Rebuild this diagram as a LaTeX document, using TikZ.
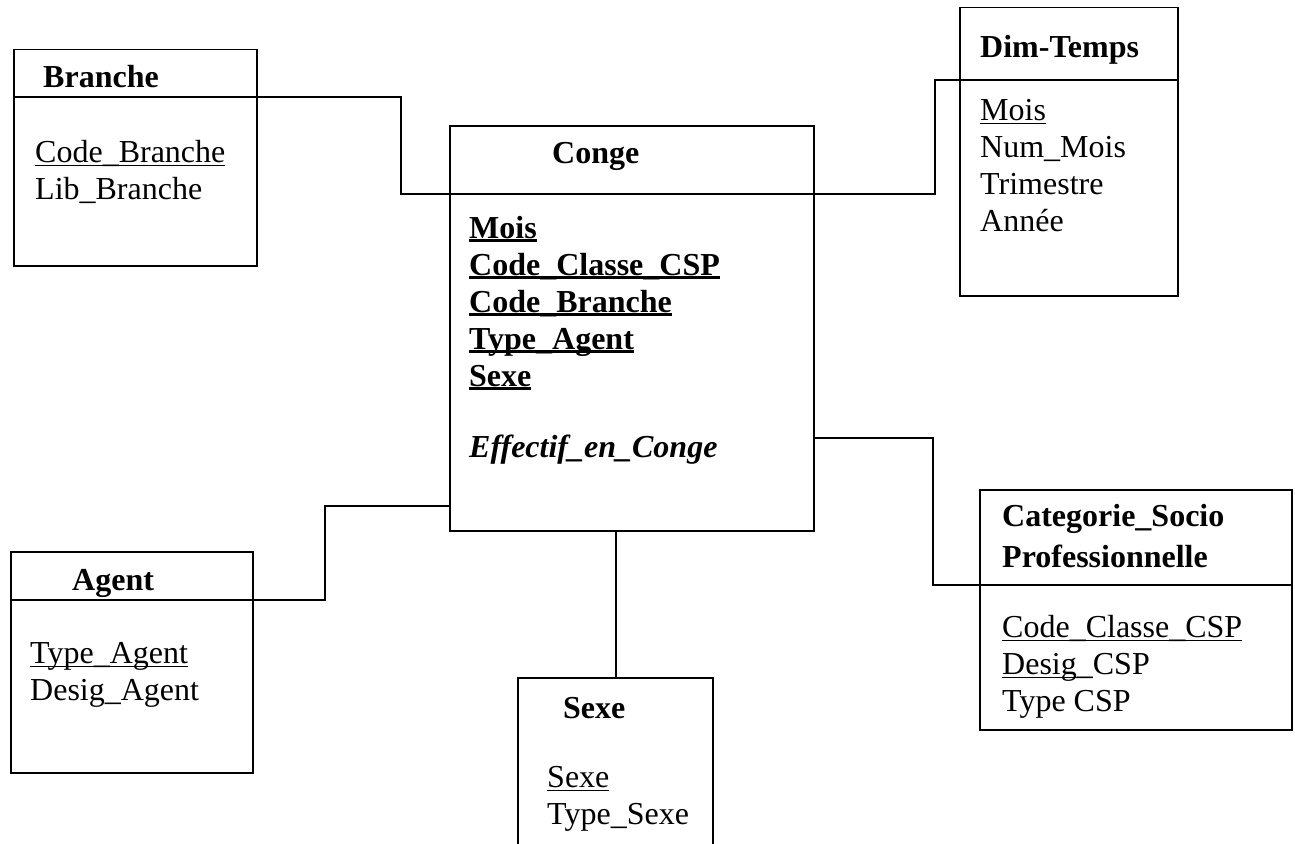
\documentclass[tikz,border=0pt]{standalone}
\usepackage{fontspec}
\setmainfont{Liberation Serif}
\usetikzlibrary{positioning,calc}

% underlined key attribute (rule just under the baseline)
\newcommand{\keyline}[2]{\setbox0\hbox{#2}\rlap{\rule[-4pt]{\wd0}{#1}}\box0}
\newcommand{\pkey}[1]{\keyline{1.4pt}{#1}}
\newcommand{\fkey}[1]{\keyline{2.6pt}{#1}}

\begin{document}
\begin{tikzpicture}[
    x=1pt, y=-1pt,
    box/.style={draw, line width=1.5pt, rectangle, anchor=north west, inner sep=0pt},
    title/.style={anchor=base west, inner sep=0pt, align=left, font=\fontsize{32}{41}\selectfont\bfseries},
    attr/.style={anchor=base west, inner sep=0pt, align=left, font=\fontsize{32}{37}\selectfont},
    keys/.style={attr, font=\fontsize{32}{37}\selectfont\bfseries},
    link/.style={line width=1.5pt}
]
\clip (0,0) rectangle (1295,843);

% Tables
\node[box, minimum width=243pt, minimum height=216pt] (branche) at (13,49) {};
\node[box, minimum width=218pt, minimum height=288pt] (dimtemps) at (959,7) {};
\node[box, minimum width=364pt, minimum height=405pt] (conge) at (449,125) {};
\node[box, minimum width=242pt, minimum height=221pt] (agent) at (10,551) {};
\node[box, minimum width=195pt, minimum height=220pt] (sexe) at (517,677) {};
\node[box, minimum width=312pt, minimum height=240pt] (csp) at (979,489) {};

% Header dividers
\draw[link] (branche.west |- 0,97) -- (branche.east |- 0,97);
\draw[link] (dimtemps.west |- 0,80) -- (dimtemps.east |- 0,80);
\draw[link] (agent.west |- 0,600) -- (agent.east |- 0,600);
\draw[link] (csp.west |- 0,585) -- (csp.east |- 0,585);

% Branche (multi-line nodes sit on their last baseline)
\node[title] (brtitle) at (43,88) {Branche};
\node[attr] (brattr) at (35,199) {\pkey{Code\_Branche}\\Lib\_Branche};

% Dim-Temps
\node[title] (dttitle) at (980,57) {Dim-Temps};
\node[attr] (dtattr) at (980,231) {\pkey{Mois}\\Num\_Mois\\Trimestre\\Année};

% Conge (fact table)
\node[title] (cgtitle) at (552,163) {Conge};
\node[keys] (cgkeys) at (469,386) {\fkey{Mois}\\\fkey{Code\_Classe\_CSP}\\\fkey{Code\_Branche}\\\fkey{Type\_Agent}\\\fkey{Sexe}};
\node[keys, font=\fontsize{32}{37}\selectfont\bfseries\itshape] (cgmes) at (469,457) {Effectif\_en\_Conge};

% Agent
\node[title] (agtitle) at (72,590) {Agent};
\node[attr] (agattr) at (30,700) {\pkey{Type\_Agent}\\Desig\_Agent};

% Sexe
\node[title] (sxtitle) at (563,718) {Sexe};
\node[attr] (sxattr) at (547,824) {\pkey{Sexe}\\Type\_Sexe};

% Categorie socio professionnelle
\node[title] (csptitle) at (1002,567) {Categorie\_Socio\\Professionnelle};
\node[attr] (cspattr) at (1002,711) {\pkey{Code\_Classe\_CSP}\\\pkey{Desig}\_CSP\\Type CSP};

% Links
\draw[link] (branche.east |- 0,97) -- (401,97) |- (conge.west |- 0,194);
\draw[link] (conge.west |- 0,194) -- (conge.east |- 0,194);
\draw[link] (conge.east |- 0,194) -| (935,80) -- (dimtemps.west |- 0,80);
\draw[link] (conge.east |- 0,438) -| (933,585) -- (csp.west |- 0,585);
\draw[link] (conge.west |- 0,506) -| (325,600) -- (agent.east |- 0,600);
\draw[link] (conge.south -| 616,0) -- (sexe.north -| 616,0);

\end{tikzpicture}
\end{document}
